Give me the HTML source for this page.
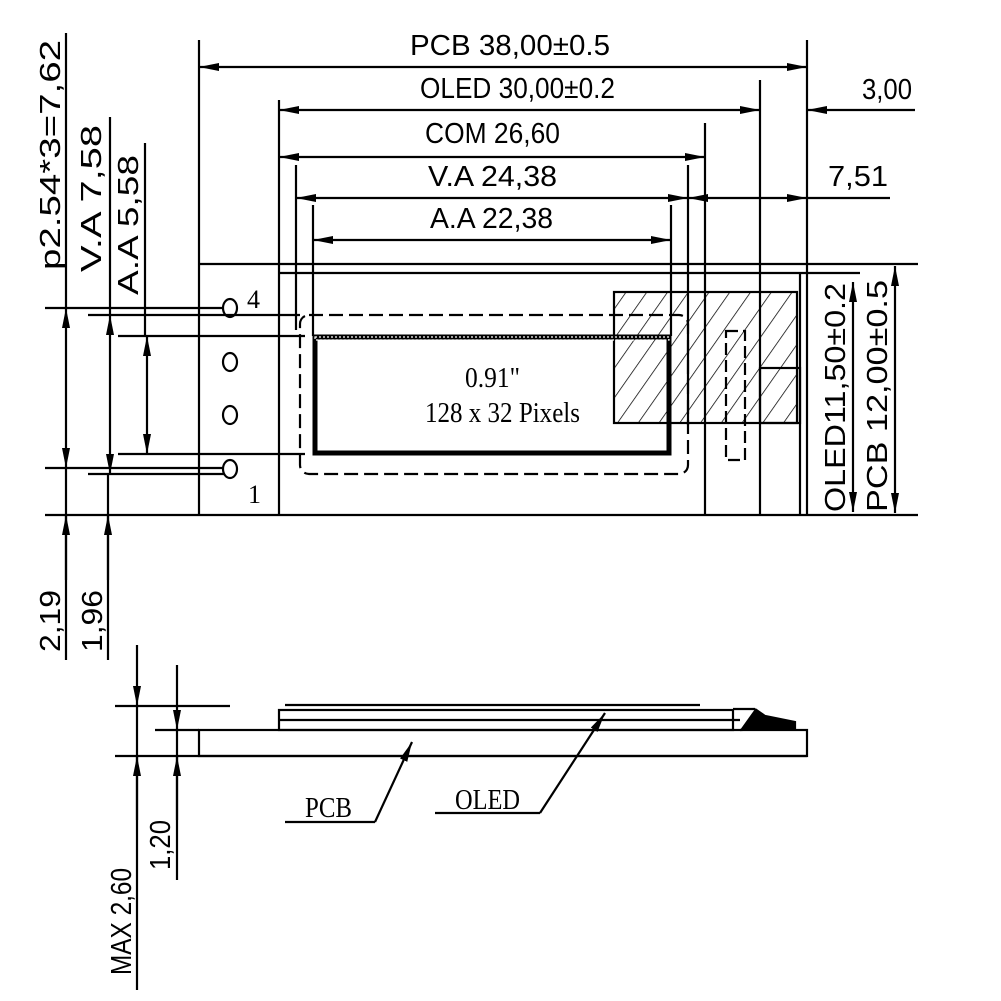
<!DOCTYPE html>
<html><head><meta charset="utf-8"><style>
html,body{margin:0;padding:0;background:#fff}
svg{display:block}
.t{font-family:"Liberation Sans",sans-serif;font-size:29px;fill:#000}
.s{font-family:"Liberation Serif",serif;fill:#000}
</style></head><body>
<svg width="1001" height="1001" viewBox="0 0 1001 1001" xmlns="http://www.w3.org/2000/svg">
<defs>
<marker id="a" viewBox="0 0 20 8" refX="20" refY="4" markerWidth="20" markerHeight="8" markerUnits="userSpaceOnUse" orient="auto-start-reverse"><path d="M0,0 L20,4 L0,8 z" fill="#000"/></marker>
<pattern id="h" width="17" height="17" patternUnits="userSpaceOnUse" patternTransform="rotate(35)"><line x1="0" y1="0" x2="0" y2="17" stroke="#000" stroke-width="1.5"/></pattern>
</defs>
<g stroke="#000" stroke-width="2.2" fill="none">
<line x1="199" y1="40" x2="199" y2="262"/>
<line x1="807" y1="40" x2="807" y2="515"/>
<line x1="279" y1="100" x2="279" y2="515"/>
<line x1="760" y1="80" x2="760" y2="515"/>
<line x1="705" y1="123" x2="705" y2="515"/>
<line x1="296" y1="165" x2="296" y2="330"/>
<line x1="688" y1="165" x2="688" y2="425"/>
<line x1="313" y1="205" x2="313" y2="336"/>
<line x1="671" y1="205" x2="671" y2="336"/>
<line x1="199" y1="67" x2="807" y2="67" marker-start="url(#a)" marker-end="url(#a)"/>
<line x1="279" y1="110" x2="760" y2="110" marker-start="url(#a)" marker-end="url(#a)"/>
<line x1="915" y1="110" x2="807" y2="110" marker-end="url(#a)"/>
<line x1="279" y1="157" x2="705" y2="157" marker-start="url(#a)" marker-end="url(#a)"/>
<line x1="296" y1="198" x2="688" y2="198" marker-start="url(#a)" marker-end="url(#a)"/>
<line x1="688" y1="198" x2="807" y2="198" marker-start="url(#a)" marker-end="url(#a)"/>
<line x1="807" y1="198" x2="890" y2="198"/>
<line x1="313" y1="240" x2="671" y2="240" marker-start="url(#a)" marker-end="url(#a)"/>
<line x1="199" y1="264" x2="918" y2="264"/>
<line x1="279" y1="273" x2="860" y2="273"/>
<line x1="45" y1="515" x2="918" y2="515"/>
<line x1="199" y1="262" x2="199" y2="515"/>
<line x1="800" y1="273" x2="800" y2="515"/>
<line x1="66" y1="33" x2="66" y2="308"/>
<line x1="110" y1="117" x2="110" y2="315"/>
<line x1="145" y1="143" x2="145" y2="335"/>
<line x1="45" y1="308" x2="224" y2="308"/>
<line x1="88" y1="315" x2="300" y2="315"/>
<line x1="118" y1="336" x2="305" y2="336"/>
<line x1="118" y1="454" x2="305" y2="454"/>
<line x1="45" y1="468" x2="224" y2="468"/>
<line x1="88" y1="474" x2="224" y2="474"/>
<line x1="66" y1="308" x2="66" y2="468" marker-start="url(#a)" marker-end="url(#a)"/>
<line x1="110" y1="315" x2="110" y2="474" marker-start="url(#a)" marker-end="url(#a)"/>
<line x1="147" y1="336" x2="147" y2="454" marker-start="url(#a)" marker-end="url(#a)"/>
<line x1="66" y1="468" x2="66" y2="660"/>
<line x1="108" y1="474" x2="108" y2="660"/>
<line x1="66" y1="580" x2="66" y2="515" marker-end="url(#a)"/>
<line x1="108" y1="580" x2="108" y2="515" marker-end="url(#a)"/>
<ellipse cx="230" cy="308" rx="7" ry="9"/>
<ellipse cx="230" cy="362" rx="7" ry="9"/>
<ellipse cx="230" cy="415" rx="7" ry="9"/>
<ellipse cx="230" cy="469" rx="7" ry="9"/>
<rect x="300" y="315" width="388" height="159" rx="9" stroke-dasharray="14,6"/>
<rect x="614" y="292" width="183" height="131" fill="url(#h)"/>
<rect x="760" y="368" width="40" height="55"/>
<rect x="726" y="331" width="19" height="129" stroke-dasharray="12,5"/>
<line x1="115" y1="706" x2="230" y2="706"/>
<line x1="155" y1="730" x2="199" y2="730"/>
<line x1="115" y1="756" x2="807" y2="756"/>
<rect x="199" y="730" width="608" height="26"/>
<rect x="279" y="710" width="454" height="20"/>
<line x1="279" y1="720" x2="740" y2="720"/>
<line x1="285" y1="705" x2="700" y2="705"/>
<line x1="733" y1="709" x2="755" y2="709"/>
<path d="M755,709 L765,716 L795,722 L795,728 L740,730" fill="#000"/>
<line x1="137" y1="645" x2="137" y2="706" marker-end="url(#a)"/>
<line x1="177" y1="665" x2="177" y2="730" marker-end="url(#a)"/>
<line x1="137" y1="820" x2="137" y2="756" marker-end="url(#a)"/>
<line x1="177" y1="820" x2="177" y2="756" marker-end="url(#a)"/>
<line x1="137" y1="706" x2="137" y2="990"/>
<line x1="177" y1="730" x2="177" y2="880"/>
<line x1="285" y1="822" x2="375" y2="822"/>
<line x1="375" y1="822" x2="412" y2="742" marker-end="url(#a)"/>
<line x1="435" y1="813" x2="540" y2="813"/>
<line x1="540" y1="813" x2="605" y2="713" marker-end="url(#a)"/>
<line x1="853" y1="282" x2="853" y2="512" marker-start="url(#a)" marker-end="url(#a)"/>
<line x1="895" y1="266" x2="895" y2="513" marker-start="url(#a)" marker-end="url(#a)"/>
</g>
<rect x="315" y="337" width="354" height="116" fill="none" stroke="#000" stroke-width="5"/>
<rect x="315" y="337" width="354" height="3" fill="none" stroke="#fff" stroke-width="1.2" stroke-dasharray="2,2"/>
<text class="t" x="410" y="55" textLength="200" lengthAdjust="spacingAndGlyphs">PCB 38,00±0.5</text>
<text class="t" x="420" y="98" textLength="195" lengthAdjust="spacingAndGlyphs">OLED 30,00±0.2</text>
<text class="t" x="862" y="99" textLength="50" lengthAdjust="spacingAndGlyphs">3,00</text>
<text class="t" x="425" y="143" textLength="135" lengthAdjust="spacingAndGlyphs">COM 26,60</text>
<text class="t" x="428" y="186" textLength="129" lengthAdjust="spacingAndGlyphs">V.A 24,38</text>
<text class="t" x="828" y="186" textLength="60" lengthAdjust="spacingAndGlyphs">7,51</text>
<text class="t" x="430" y="228" textLength="123" lengthAdjust="spacingAndGlyphs">A.A 22,38</text>
<text class="t" transform="translate(60,270) rotate(-90)" textLength="230" lengthAdjust="spacingAndGlyphs">p2.54*3=7,62</text>
<text class="t" transform="translate(101,272) rotate(-90)" textLength="147" lengthAdjust="spacingAndGlyphs">V.A 7,58</text>
<text class="t" transform="translate(138,295) rotate(-90)" textLength="140" lengthAdjust="spacingAndGlyphs">A.A 5,58</text>
<text class="t" transform="translate(845,512) rotate(-90)" textLength="229" lengthAdjust="spacingAndGlyphs">OLED11,50±0.2</text>
<text class="t" transform="translate(887,512) rotate(-90)" textLength="232" lengthAdjust="spacingAndGlyphs">PCB 12,00±0.5</text>
<text class="t" transform="translate(60,652) rotate(-90)" textLength="62" lengthAdjust="spacingAndGlyphs">2,19</text>
<text class="t" transform="translate(102,652) rotate(-90)" textLength="62" lengthAdjust="spacingAndGlyphs">1,96</text>
<text class="t" transform="translate(131,975) rotate(-90)" textLength="107" lengthAdjust="spacingAndGlyphs">MAX 2,60</text>
<text class="t" transform="translate(170,870) rotate(-90)" textLength="50" lengthAdjust="spacingAndGlyphs">1,20</text>
<text class="s" x="247" y="308" font-size="26">4</text>
<text class="s" x="248" y="503" font-size="26">1</text>
<text class="s" x="465" y="387" font-size="28" textLength="55" lengthAdjust="spacingAndGlyphs">0.91"</text>
<text class="s" x="425" y="422" font-size="28" textLength="155" lengthAdjust="spacingAndGlyphs">128 x 32 Pixels</text>
<text class="s" x="305" y="817" font-size="28" textLength="47" lengthAdjust="spacingAndGlyphs">PCB</text>
<text class="s" x="455" y="809" font-size="28" textLength="65" lengthAdjust="spacingAndGlyphs">OLED</text>
</svg>
</body></html>
